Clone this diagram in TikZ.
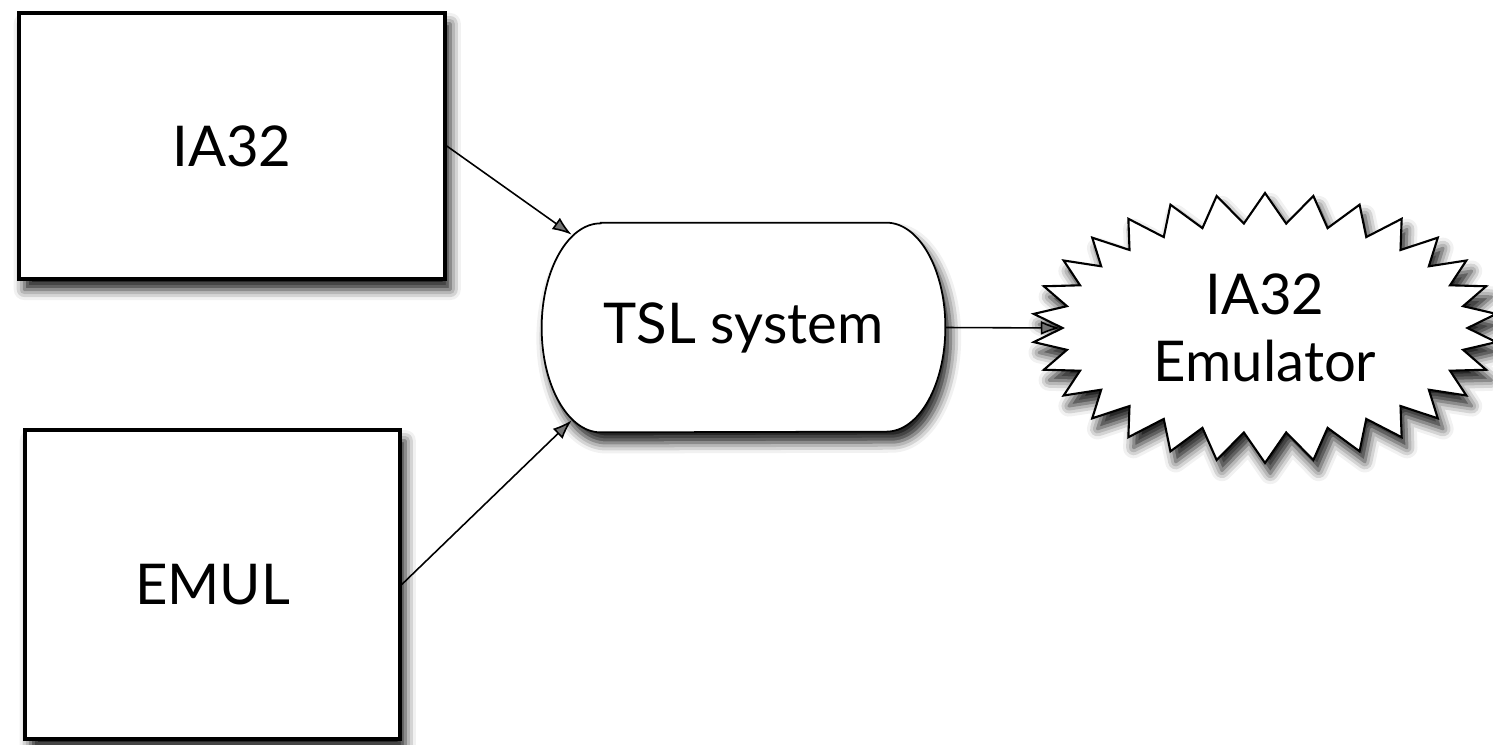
\documentclass[tikz,border=0pt]{standalone}
\usepackage{fontspec}
\setmainfont{Lato}
\usetikzlibrary{shapes.symbols,shadows.blur,arrows.meta}

\begin{document}
\begin{tikzpicture}[font=\fontsize{32}{38}\selectfont, box/.style={draw, line width=2pt, fill=white, blur shadow={shadow xshift=3pt, shadow yshift=-6pt, shadow blur radius=6pt, shadow opacity=90}}, link/.style={-{Latex[length=11pt,width=8pt]}, line width=0.9pt}]
\useasboundingbox (0,0) rectangle (29.86,14.88);
\node[box, minimum width=8.52cm, minimum height=5.32cm] (ia32) at (4.64,11.96) {IA32};
\node[box, minimum width=7.5cm, minimum height=6.18cm] (emul) at (4.25,3.19) {EMUL};
\node[minimum width=8.06cm, minimum height=4.18cm] (tsl) at (14.87,8.33) {};
\draw[box, line width=1pt] ([xshift=1.18cm]tsl.north west) -- ([xshift=-1.18cm]tsl.north east)
    arc[start angle=90, end angle=-90, x radius=1.18cm, y radius=2.09cm] -- ([xshift=1.18cm]tsl.south west)
    arc[start angle=270, end angle=90, x radius=1.18cm, y radius=2.09cm] -- cycle;
\node (tsltext) at (tsl.center) {TSL system};
\node[box, line width=1.2pt, starburst, starburst points=30, starburst point height=0.6cm, random starburst=0, minimum width=9.3cm, minimum height=5.4cm, align=center] (emu) at (25.3,8.32) {IA32\\Emulator};
\draw[link] (ia32.east) -- ([shift={(0.6,-0.24)}]tsl.north west);
\draw[link] (emul.east) -- ([shift={(0.6,0.24)}]tsl.south west);
\draw[link] (tsl.east) -- (emu.west);
\end{tikzpicture}
\end{document}
